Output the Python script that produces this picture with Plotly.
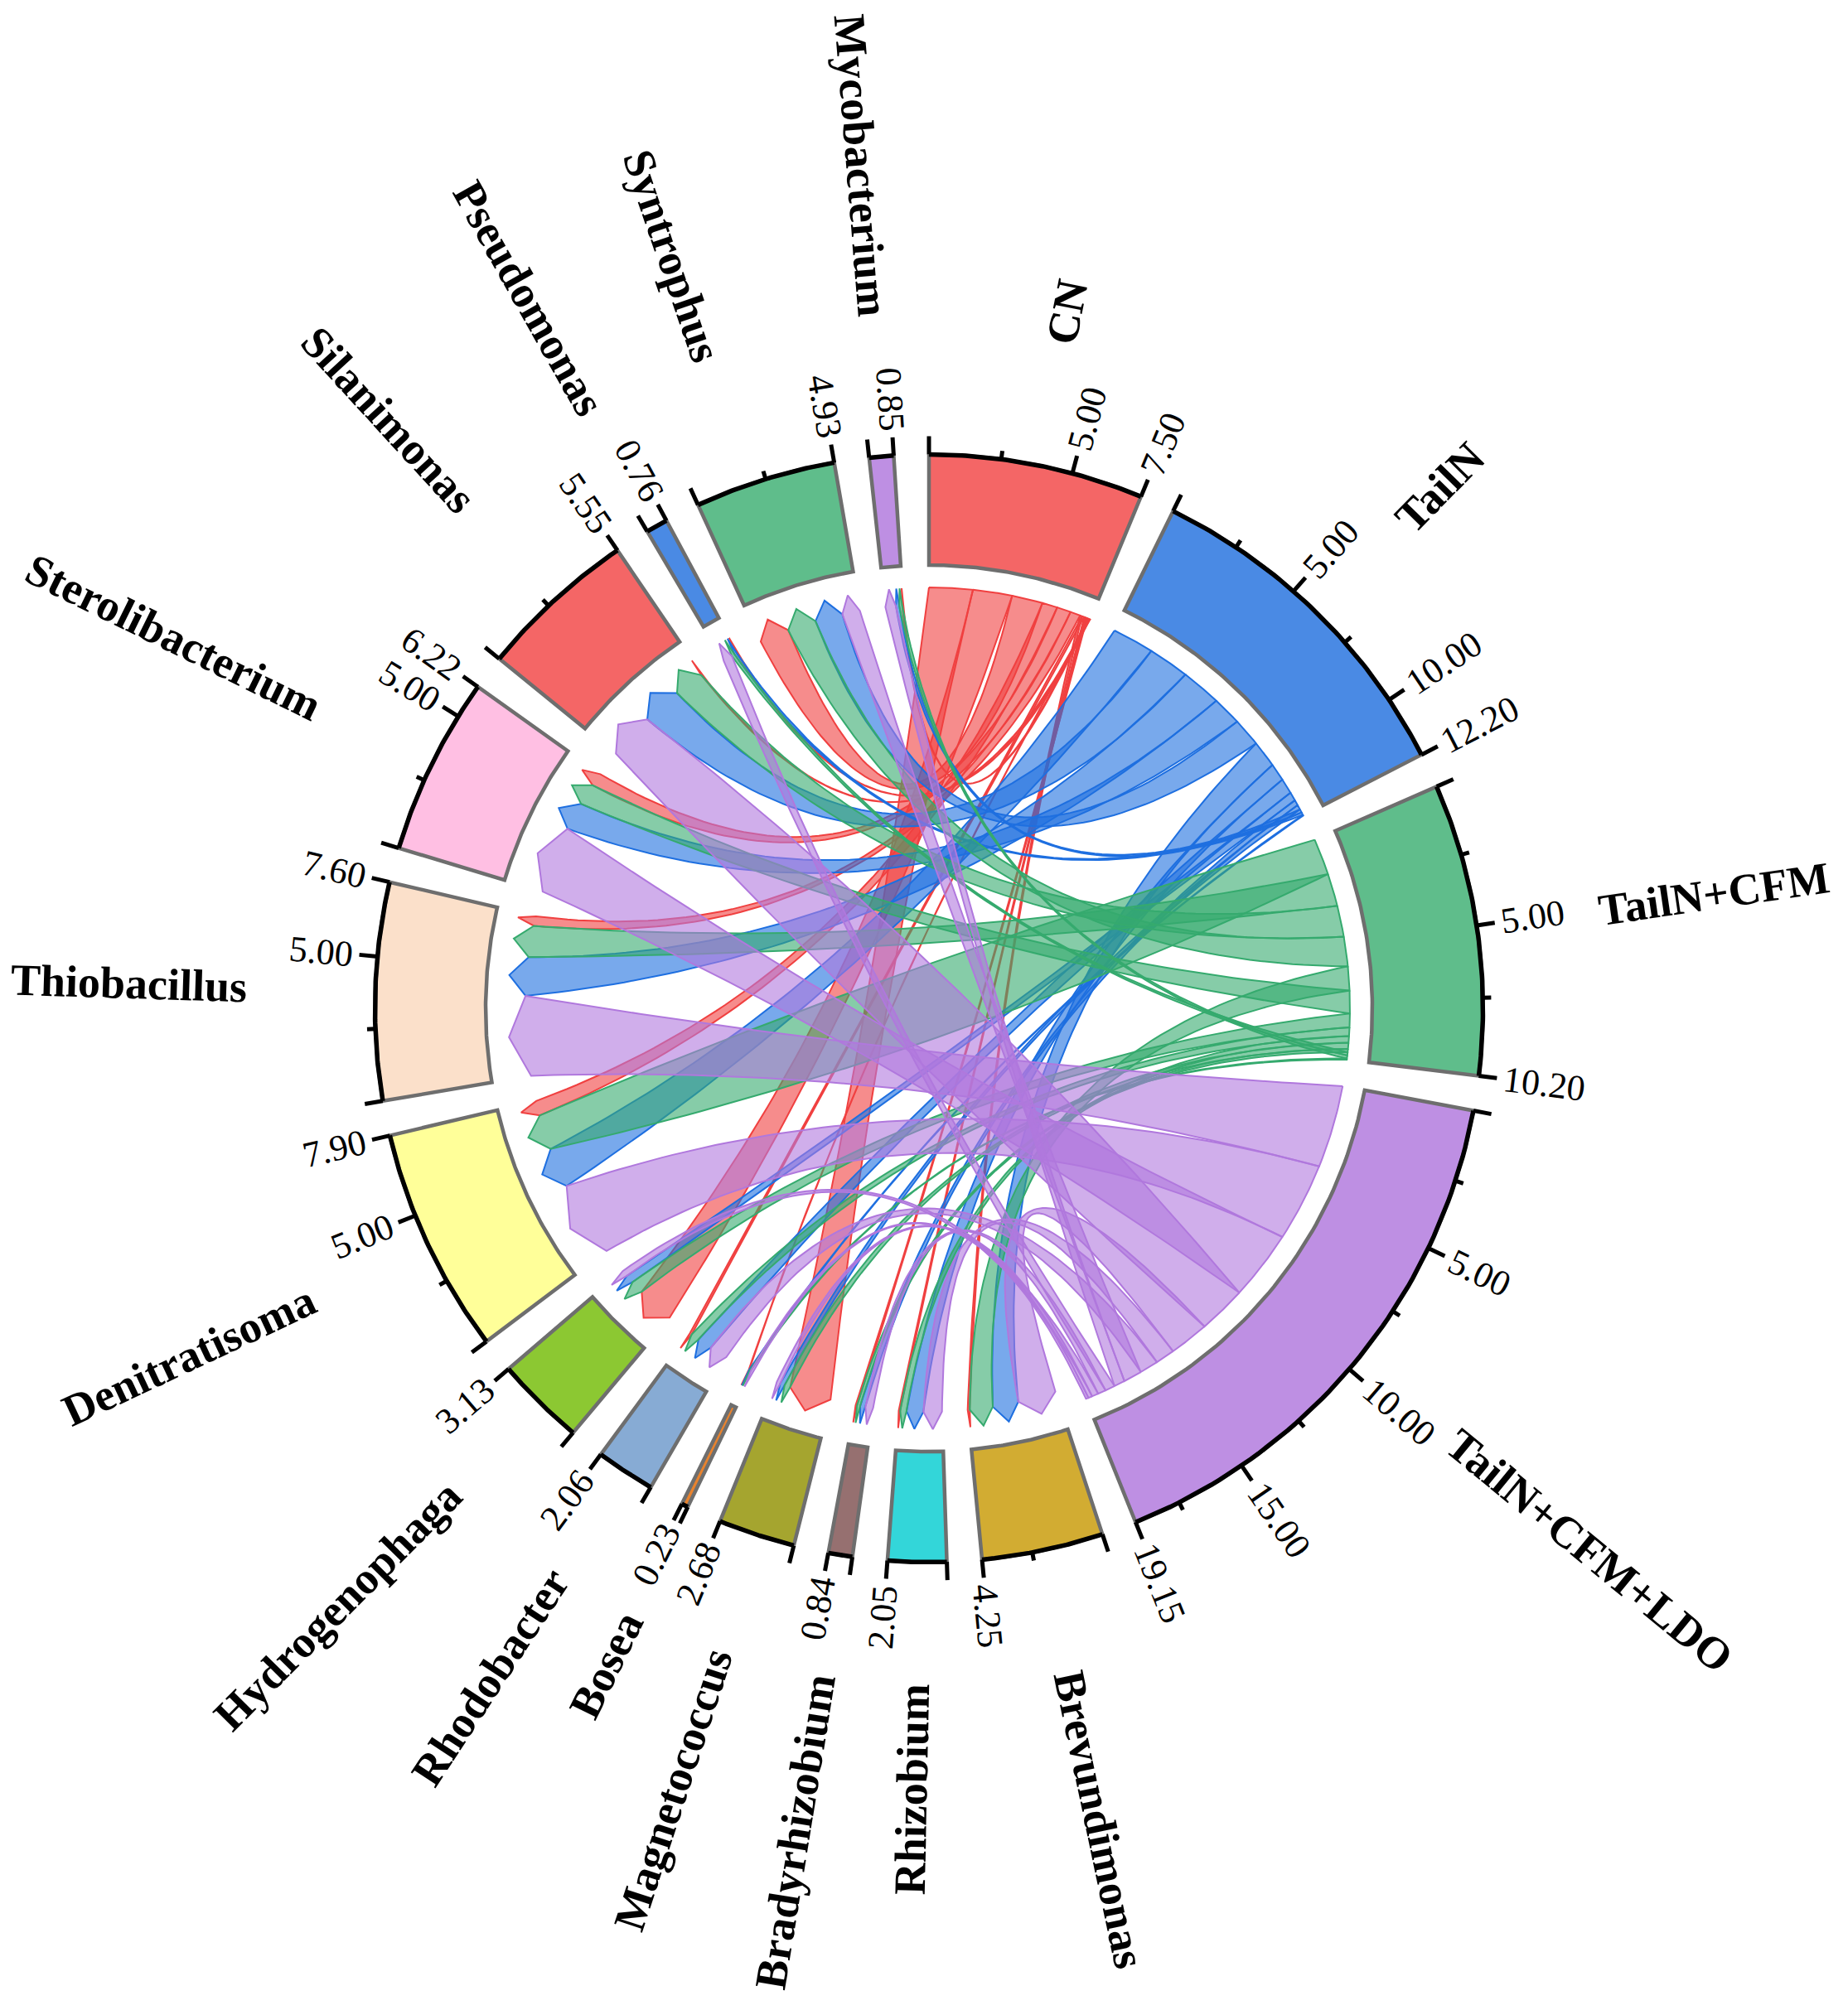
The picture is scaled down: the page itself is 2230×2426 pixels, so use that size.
import numpy as np
import plotly.graph_objects as go

groups = ["CN", "TailN", "TailN+CFM", "TailN+CFM+LDO"]
genera = ["Brevundimonas", "Rhizobium", "Bradyrhizobium", "Magnetococcus", "Bosea", "Rhodobacter",
          "Hydrogenophaga", "Denitratisoma", "Thiobacillus", "Sterolibacterium", "Silanimonas",
          "Pseudomonas", "Syntrophus", "Mycobacterium"]
cn_values = [0.10, 0.07, 0.07, 2.00, 0.02, 0.10, 1.80, 0.70, 0.46, 0.64, 0.04, 0.04, 1.41, 0.05]
tailn_values = [1.23, 0.80, 0.25, 0.22, 0.04, 0.70, 0.40, 1.91, 1.84, 1.34, 1.88, 0.12, 1.31, 0.16]
cfm_values = [1.10, 0.30, 0.15, 0.28, 0.05, 0.40, 0.63, 1.67, 1.50, 1.04, 1.43, 0.15, 1.36, 0.14]
ldo_values = [1.82, 0.88, 0.37, 0.18, 0.12, 0.86, 0.30, 3.62, 3.80, 3.20, 2.20, 0.45, 0.85, 0.50]
group_totals = [7.50, 12.20, 10.20, 19.15]
genus_totals = [4.25, 2.05, 0.84, 2.68, 0.23, 2.06, 3.13, 7.90, 7.60, 6.22, 5.55, 0.76, 4.93, 0.85]

group_colors = ["#F46666", "#4A8AE4", "#5FBD8B", "#BE8FE3"]
genus_colors = ["#D2AC32", "#33D6D9", "#967070", "#A5A52F", "#E8832E", "#87ABD4", "#8CC832",
                "#FFFF99", "#FBE0CA", "#FFBFE3", "#F46666", "#4A8AE4", "#5FBD8B", "#BE8FE3"]
ribbon_lines = ["#F04040", "#1E6FE0", "#35AA6E", "#B078DD"]
ribbon_fills = ["rgba(240,64,64,0.6)", "rgba(30,111,224,0.6)", "rgba(53,170,110,0.6)", "rgba(176,120,221,0.6)"]

W, H = 2230, 2426
CX, CY = 1121, 1217
R_OUT, R_IN, R_LINK, R_SHOULDER, R_CTRL = 668.5, 535, 508, 487, 65
DEG_PER_UNIT, GAP = 3.0, 3.65
TICK_MAJOR, TICK_MINOR = 22, 10
TICK_FS, NAME_FS = 44, 54
NAME_R = 815
NAME_NUDGE = {"Mycobacterium": 23, "Syntrophus": 11, "Pseudomonas": 11, "Silanimonas": 8, "Sterolibacterium": 6,
              "Thiobacillus": 8, "CN": 3, "Brevundimonas": 3, "Denitratisoma": 6}
NAME_TURN = {"Syntrophus": -1.6, "Mycobacterium": 0.3}

REG = {c: 500 for c in "0123456789"}
REG["."] = 250
BOLD = dict(a=500, b=556, c=444, d=556, e=444, f=333, g=500, h=556, i=278, j=333, k=556, l=278, m=833,
            n=556, o=500, p=556, q=556, r=444, s=389, t=333, u=556, v=500, w=722, x=500, y=500, z=444,
            B=667, C=722, D=722, F=611, H=778, L=667, M=944, N=722, O=778, P=611, R=722, S=556, T=667)
BOLD["+"] = 570


def text_w(s, table, fs):
    return sum(table[c] for c in s) / 1000 * fs


def pt(r, deg):
    t = np.radians(deg)
    return r * np.sin(t), -r * np.cos(t)


def arc(r, a0, a1, n=60):
    a = np.linspace(a0, a1, n)
    return pt(r, a)


def bezier(r0, a0, r1, a1, n=70):
    x0, y0 = pt(r0, a0)
    x1, y1 = pt(r1, a1)
    ux, uy = np.sin(np.radians(a0)) + np.sin(np.radians(a1)), -np.cos(np.radians(a0)) - np.cos(np.radians(a1))
    norm = np.hypot(ux, uy) or 1.0
    cx, cy = R_CTRL * ux / norm, R_CTRL * uy / norm
    s = np.linspace(0, 1, n)
    return (1 - s) ** 2 * x0 + 2 * s * (1 - s) * cx + s ** 2 * x1, (1 - s) ** 2 * y0 + 2 * s * (1 - s) * cy + s ** 2 * y1


names = groups + genera
totals = group_totals + genus_totals
colors = group_colors + genus_colors
starts = []
pos = 0.0
for v in totals:
    starts.append(pos)
    pos += v * DEG_PER_UNIT + GAP

matrix = np.array([cn_values, tailn_values, cfm_values, ldo_values])
n_g, n_s = matrix.shape

group_span = {}
for g in range(n_g):
    order = sorted(range(n_s), key=lambda j: -matrix[g, j])
    a = starts[g]
    for j in order:
        group_span[(g, j)] = (a, a + matrix[g, j] * DEG_PER_UNIT)
        a += matrix[g, j] * DEG_PER_UNIT
genus_span = {}
for j in range(n_s):
    order = sorted(range(n_g), key=lambda g: -matrix[g, j])
    a = starts[n_g + j]
    for g in order:
        genus_span[(g, j)] = (a, a + matrix[g, j] * DEG_PER_UNIT)
        a += matrix[g, j] * DEG_PER_UNIT

fig = go.Figure()


def add_line(x, y, color, width, fill=None):
    fig.add_trace(go.Scatter(x=x, y=y, mode="lines", line=dict(color=color, width=width),
                             fill="toself" if fill else None, fillcolor=fill, hoverinfo="skip", showlegend=False))


# ribbons
for g in range(n_g):
    order = sorted(range(n_s), key=lambda j: -matrix[g, j])
    for j in order:
        a0, a1 = group_span[(g, j)]
        b0, b1 = genus_span[(g, j)]
        xs, ys = [], []
        for seg in (arc(R_LINK, a0, a1, 20), bezier(R_LINK, a1, R_SHOULDER, b0)):
            xs.extend(seg[0]); ys.extend(seg[1])
        tip = pt(R_LINK, (b0 + b1) / 2)
        xs.append(tip[0]); ys.append(tip[1])
        seg = bezier(R_SHOULDER, b1, R_LINK, a0)
        xs.extend(seg[0]); ys.extend(seg[1])
        add_line(xs, ys, ribbon_lines[g], 2, ribbon_fills[g])

# sectors
annotations = []


def label(text, r_start, deg, table, fs, bold):
    w = text_w(text, table, fs)
    d = deg % 360
    angle = d - 90 if d < 180 else d - 270
    x, y = pt(r_start + w / 2, d)
    txt = "<b>%s</b>" % text if bold else text
    annotations.append(dict(x=x, y=y, xref="x", yref="y", text=txt, showarrow=False, textangle=angle,
                            xanchor="center", yanchor="middle",
                            font=dict(family="Liberation Serif", size=fs, color="black")))


for i, name in enumerate(names):
    s = starts[i]
    t = totals[i]
    e = s + t * DEG_PER_UNIT
    ox, oy = arc(R_OUT, s, e)
    ix, iy = arc(R_IN, e, s)
    add_line(list(ox) + list(ix) + [ox[0]], list(oy) + list(iy) + [oy[0]], "#6E6E6E", 4.5, colors[i])
    add_line(ox, oy, "black", 5.5)
    tick_vals = [0.0]
    v = 2.5
    while v < t - 1.0:
        tick_vals.append(v)
        v += 2.5
    tick_vals.append(t)
    for v in tick_vals:
        a = s + v * DEG_PER_UNIT
        major = v == 0 or v == t or abs(v / 5 - round(v / 5)) < 1e-9
        x0, y0 = pt(R_OUT, a)
        x1, y1 = pt(R_OUT + (TICK_MAJOR if major else TICK_MINOR), a)
        add_line([x0, x1], [y0, y1], "black", 5)
        if major and v > 0:
            label("%.2f" % v, R_OUT + 30, a, REG, TICK_FS, False)
    label(name, NAME_R + NAME_NUDGE.get(name, 0), (s + e) / 2 + NAME_TURN.get(name, 0), BOLD, NAME_FS, True)

fig.update_layout(
    width=W, height=H, autosize=False, margin=dict(l=0, r=0, t=0, b=0),
    paper_bgcolor="white", plot_bgcolor="white", showlegend=False, annotations=annotations,
    xaxis=dict(range=[-CX, W - CX], visible=False, fixedrange=True),
    yaxis=dict(range=[H - CY, -CY], visible=False, fixedrange=True),
)
fig.write_html("out.html", post_script="document.body.style.margin='0';", config=dict(displayModeBar=False))
